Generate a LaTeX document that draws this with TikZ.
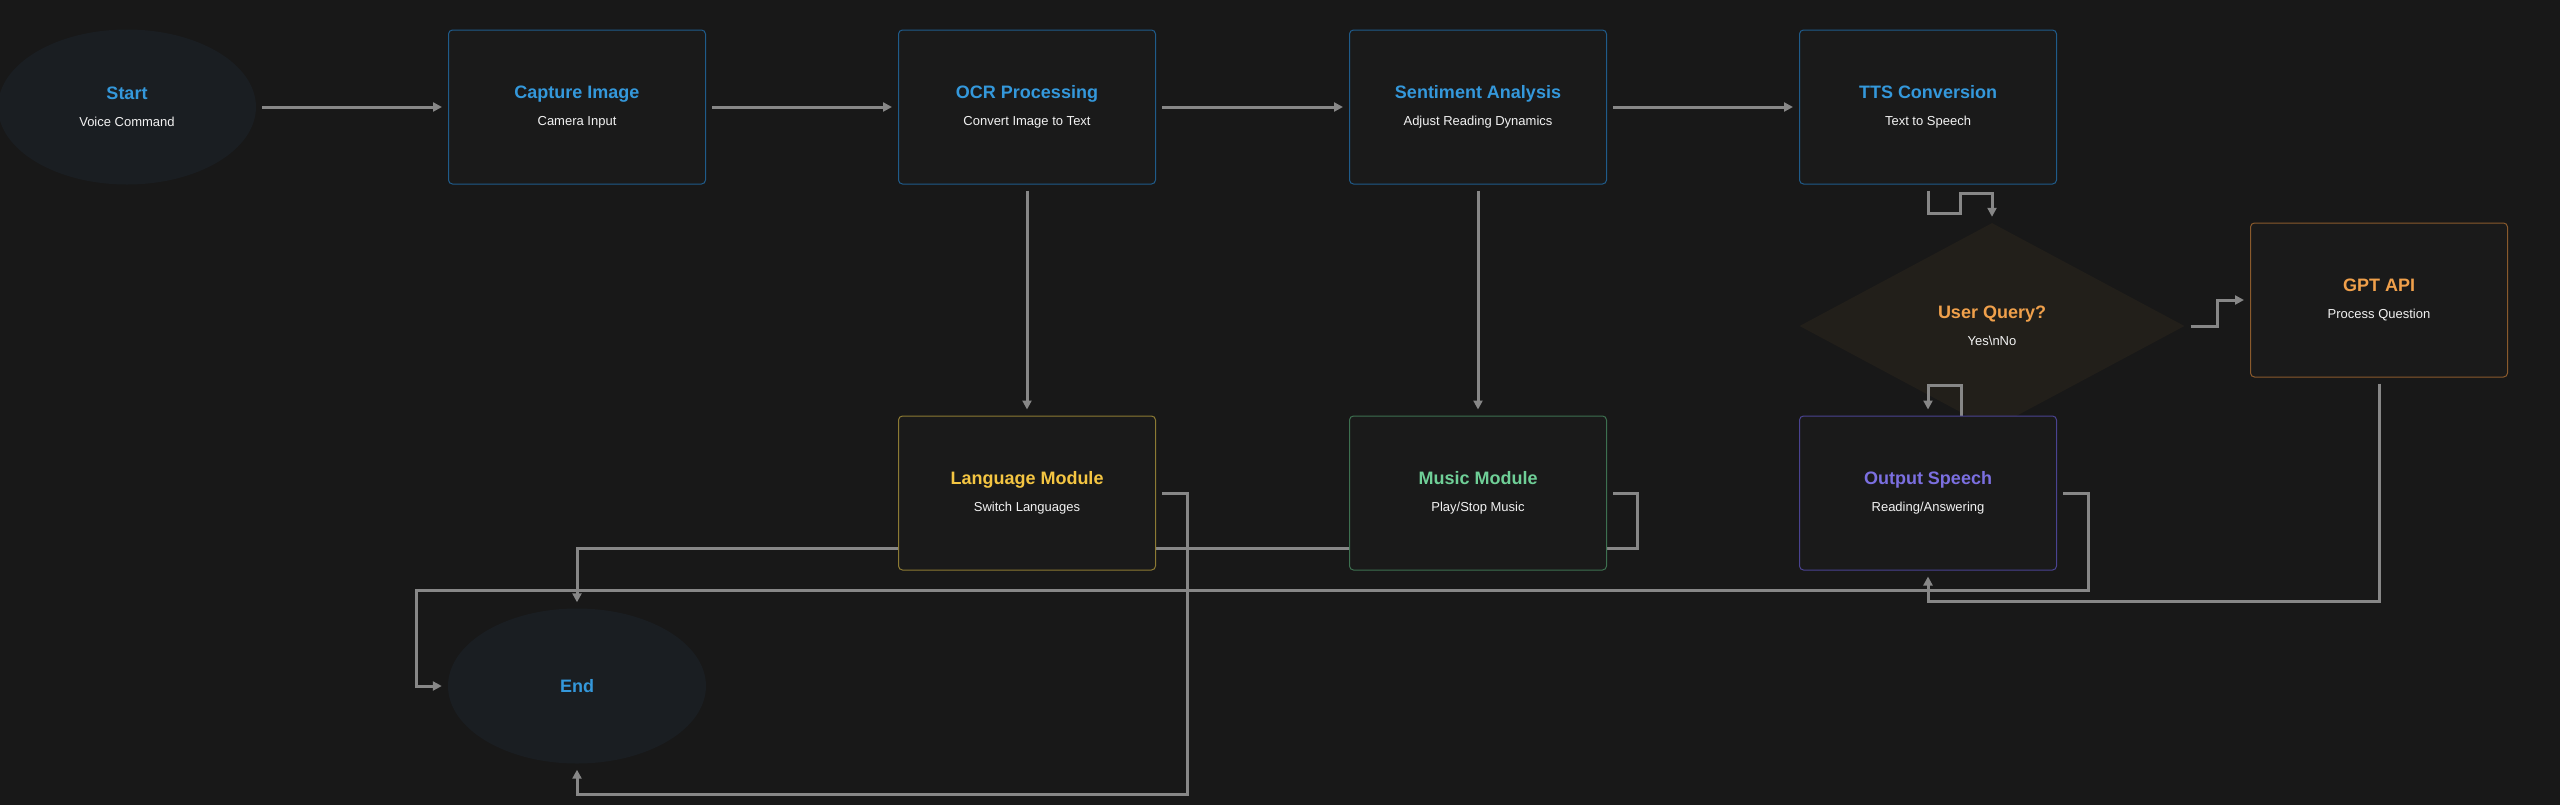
\documentclass[tikz,border=0pt]{standalone}
\usepackage{fontspec}
\setmainfont{Liberation Sans}
\usepackage{xcolor}
\usepackage{tikz}
\usetikzlibrary{shapes.geometric, arrows.meta}
\definecolor{bgdark}{HTML}{181818}
\definecolor{boxfill}{HTML}{1A1A1A}
\definecolor{roundfill}{HTML}{1A1E22}
\definecolor{queryfill}{HTML}{221F1A}
\definecolor{wire}{HTML}{878787}
\definecolor{subtxt}{HTML}{F2F2F2}
\definecolor{bluetxt}{HTML}{3498DB}
\definecolor{blueedge}{HTML}{1F5B8A}
\definecolor{orangetxt}{HTML}{F0A04B}
\definecolor{orangeedge}{HTML}{8A5A2C}
\definecolor{yellowtxt}{HTML}{F4C542}
\definecolor{yellowedge}{HTML}{8C7A33}
\definecolor{greentxt}{HTML}{6FCF97}
\definecolor{greenedge}{HTML}{3D7050}
\definecolor{purpletxt}{HTML}{7B6FE0}
\definecolor{purpleedge}{HTML}{4A4391}
\pgfdeclarelayer{back}
\pgfdeclarelayer{wires}
\pgfsetlayers{back,wires,main}
\newcommand{\stagetext}[3]{{\fontsize{18}{27}\selectfont\bfseries\color{#1}#2}\\{\color{subtxt}#3}}

\begin{document}
\begin{tikzpicture}[x=1pt, y=-1pt,
    stage/.style={rectangle, rounded corners=4pt, fill=boxfill, draw=#1, line width=1pt, minimum width=257pt, minimum height=154pt, inner sep=0pt, align=center, font=\fontsize{13}{27}\selectfont},
    terminal/.style={ellipse, fill=roundfill, minimum width=258pt, minimum height=155pt, inner sep=0pt, align=center, font=\fontsize{13}{27}\selectfont},
    decision/.style={diamond, fill=queryfill, minimum width=385pt, minimum height=206pt, inner sep=0pt, align=center, font=\fontsize{13}{27}\selectfont},
    flow/.style={draw=wire, line width=3pt, -{Triangle[length=9pt,width=9pt]}, shorten <=6pt, shorten >=6pt}]
    \useasboundingbox (0,0) rectangle (2560,804);
    \begin{pgfonlayer}{back}
    \fill[bgdark] (-20,-20) rectangle (2580,824);
    \node[decision] (query) at (1992,326) {\stagetext{orangetxt}{User Query?}{Yes\textbackslash nNo}};
    \end{pgfonlayer}
    \node[terminal] (start) at (127,107) {\stagetext{bluetxt}{Start}{Voice Command}};
    \node[stage=blueedge] (cap) at (577,107) {\stagetext{bluetxt}{Capture Image}{Camera Input}};
    \node[stage=blueedge] (ocr) at (1027,107) {\stagetext{bluetxt}{OCR Processing}{Convert Image to Text}};
    \node[stage=blueedge] (sent) at (1478,107) {\stagetext{bluetxt}{Sentiment Analysis}{Adjust Reading Dynamics}};
    \node[stage=blueedge] (tts) at (1928,107) {\stagetext{bluetxt}{TTS Conversion}{Text to Speech}};
    \node[stage=orangeedge] (gpt) at (2379,300) {\stagetext{orangetxt}{GPT API}{Process Question}};
    \node[stage=yellowedge] (lang) at (1027,493) {\stagetext{yellowtxt}{Language Module}{Switch Languages}};
    \node[stage=greenedge] (music) at (1478,493) {\stagetext{greentxt}{Music Module}{Play/Stop Music}};
    \node[stage=purpleedge] (out) at (1928,493) {\stagetext{purpletxt}{Output Speech}{Reading/Answering}};
    \node[terminal] (end) at (577,686) {\fontsize{18}{27}\selectfont\bfseries\color{bluetxt}End};
    \begin{pgfonlayer}{wires}
    \draw[flow] (start) -- (cap);
    \draw[flow] (cap) -- (ocr);
    \draw[flow] (ocr) -- (sent);
    \draw[flow] (sent) -- (tts);
    \draw[flow] (ocr) -- (lang);
    \draw[flow] (sent) -- (music);
    \draw[flow] (tts.south) -- ++(0,29) -- ++(32,0) -- ++(0,-20) -- ++(32,0) -- (query.north);
    \draw[flow] (query.east) -- ++(33,0) |- (gpt.west);
    \draw[flow] ([xshift=-31pt]query.south) -- ++(0,-44) -| (out.north);
    \draw[flow] (gpt.south) -- ++(0,224) -| (out.south);
    \draw[flow] (out.east) -- ++(31,0) -- ++(0,97) -| ([xshift=-31pt]end.west) -- (end.west);
    \draw[flow] (music.east) -- ++(30,0) -- ++(0,55) -| (end.north);
    \draw[flow] (lang.east) -- ++(31,0) -- ++(0,301) -| (end.south);
    \end{pgfonlayer}
\end{tikzpicture}
\end{document}
